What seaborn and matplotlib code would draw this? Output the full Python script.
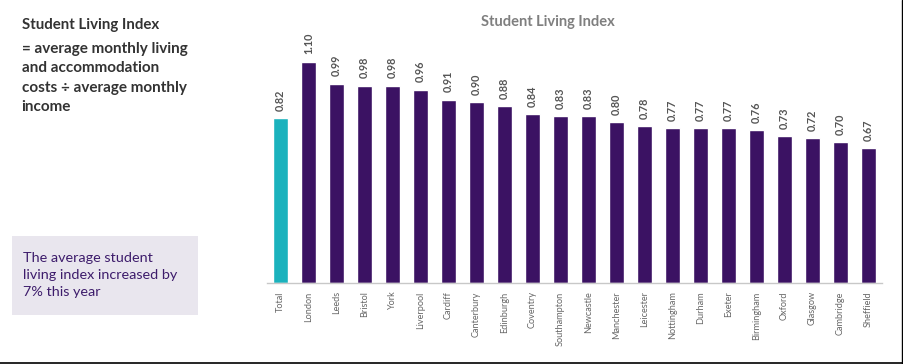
import pandas as pd
import matplotlib.pyplot as plt
import seaborn as sns
from matplotlib.patches import Rectangle

cities = ['Total', 'London', 'Leeds', 'Bristol', 'York', 'Liverpool', 'Cardiff',
          'Canterbury', 'Edinburgh', 'Coventry', 'Southampton', 'Newcastle',
          'Manchester', 'Leicester', 'Nottingham', 'Durham', 'Exeter',
          'Birmingham', 'Oxford', 'Glasgow', 'Cambridge', 'Sheffield']
index_values = [0.82, 1.10, 0.99, 0.98, 0.98, 0.96, 0.91, 0.90, 0.88, 0.84, 0.83,
                0.83, 0.80, 0.78, 0.77, 0.77, 0.77, 0.76, 0.73, 0.72, 0.70, 0.67]

df = pd.DataFrame({'Ciudad': cities, 'Indice': index_values})

sns.set_style('white')
plt.rcParams['font.family'] = ['Lato', 'DejaVu Sans']

teal = '#1BB2BD'
purple = '#3B1263'
colores = [teal] + [purple] * (len(cities) - 1)

fig = plt.figure(figsize=(9.04, 3.64), dpi=100)
ax = fig.add_axes([0.295, 0.2225, 0.681, 0.6625])

sns.barplot(data=df, x='Ciudad', y='Indice', hue='Ciudad', palette=colores,
            legend=False, width=0.55, ax=ax, saturation=1)

ax.set_ylim(0, 1.2)
ax.set_xlim(-0.5, len(cities) - 0.5)
ax.set_xlabel('')
ax.set_ylabel('')
ax.set_yticks([])
sns.despine(ax=ax, left=True)
ax.spines['bottom'].set_color('#c8c8c8')
ax.spines['bottom'].set_linewidth(1)
ax.tick_params(axis='x', length=0, pad=6)
for lbl in ax.get_xticklabels():
    lbl.set_rotation(90)
    lbl.set_fontsize(6.6)
    lbl.set_color('#666666')

for i, v in enumerate(index_values):
    ax.annotate(f'{v:.2f}', (i, v), xytext=(0, 5.5), textcoords='offset points',
                rotation=90, ha='center', va='bottom', fontsize=7.8,
                fontweight='bold', color='#555555')

fig.text(0.606, 0.94, 'Student Living Index', ha='center', va='center',
         fontsize=10.5, fontweight='bold', color='#7f7f7f')

# texto de la izquierda
fig.text(0.024, 1 - 25 / 364, 'Student Living Index', ha='left', va='center',
         fontsize=10.8, fontweight='bold', color='#333333')
fig.text(0.024, 1 - 78 / 364, '= average monthly living\nand accommodation\ncosts \u00f7 average monthly\nincome',
         ha='left', va='center', fontsize=11, fontweight='bold', color='#333333',
         linespacing=1.5)

fig.patches.append(Rectangle((12 / 904, 1 - 315 / 364), 186 / 904, 79 / 364,
                             transform=fig.transFigure, facecolor='#E9E6EE',
                             edgecolor='none', zorder=0))
fig.text(0.025, 1 - 275 / 364, 'The average student\nliving index increased by\n7% this year',
         ha='left', va='center', fontsize=10.4, color='#3D1C6B', linespacing=1.5)

# borde inferior y derecho
fig.add_artist(plt.Line2D([0, 1], [0.004, 0.004], transform=fig.transFigure,
                          color='black', linewidth=1.2))
fig.add_artist(plt.Line2D([0.998, 0.998], [0, 1], transform=fig.transFigure,
                          color='black', linewidth=1.0))

fig.savefig('out.png', dpi=100)
